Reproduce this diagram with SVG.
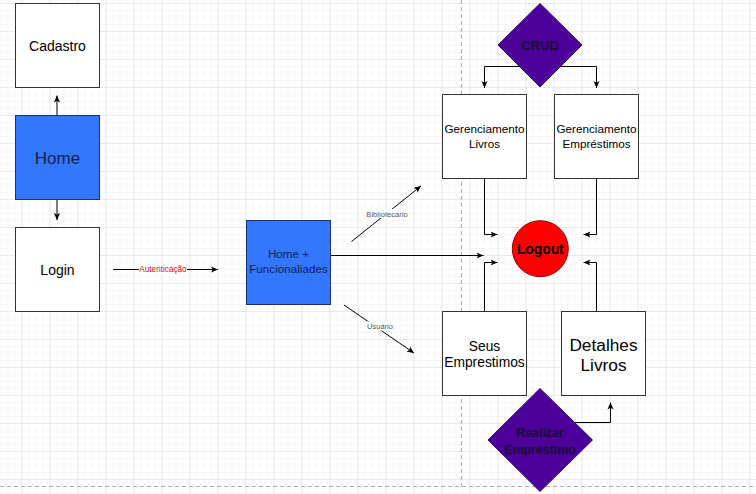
<svg xmlns="http://www.w3.org/2000/svg" width="756" height="494" viewBox="0 0 756 494">
<defs>
<pattern id="minor" patternUnits="userSpaceOnUse" x="0.5" y="3" width="7" height="7">
<path d="M0,0 H7 M0,0 V7" stroke="#f0f0f0" stroke-width="1" fill="none"/>
</pattern>
<pattern id="major" patternUnits="userSpaceOnUse" x="21.5" y="3" width="28" height="28">
<path d="M0,0 H28 M0,0 V28" stroke="#dcdcdc" stroke-width="1" fill="none"/>
</pattern>
<marker id="arr" viewBox="0 0 8 8" refX="8" refY="4" markerWidth="7" markerHeight="7" orient="auto" markerUnits="userSpaceOnUse">
<path d="M0,0.5 L8,4 L0,7.5 L2,4 Z" fill="#000"/>
</marker>
</defs>
<style>
.t{font-family:"Liberation Sans",Arial,sans-serif;text-anchor:middle;fill:#000}
.box{fill:#fff;stroke:#333;stroke-width:1}
.blue{fill:#3377ff;stroke:#1a3370;stroke-width:1}
.bt{fill:#14224d}
.dia{fill:#4c0099;stroke:#3a0080;stroke-width:1}
.dt{font-weight:bold;fill:#1a0d33}
.c{fill:none;stroke:#000;stroke-width:1;marker-end:url(#arr)}
.lbl{font-family:"Liberation Sans",Arial,sans-serif;text-anchor:middle}
</style>
<rect width="756" height="494" fill="#fff"/>
<rect width="756" height="494" fill="url(#minor)"/>
<rect width="756" height="494" fill="url(#major)"/>
<path d="M461.5,0 V486.5 M0,486.5 H756" stroke="#b0b0b0" stroke-width="1" stroke-dasharray="4 3" fill="none"/>

<g id="connectors">
<path class="c" d="M57,115 L57,95.5"/>
<path class="c" d="M57,199.5 L57,220"/>
<path class="c" d="M113,269.5 L218,269.5"/>
<path class="c" d="M330,255.5 L483.5,255.5"/>
<path class="c" d="M351.5,241.5 L421,186"/>
<path class="c" d="M344,305 L414,353"/>
<path class="c" d="M519.7,66.5 L484.5,66.5 L484.5,88"/>
<path class="c" d="M560.3,66.5 L596.5,66.5 L596.5,88"/>
<path class="c" d="M484.5,179 L484.5,234.5 L497.5,234.5"/>
<path class="c" d="M596.5,179 L596.5,234.5 L583.5,234.5"/>
<path class="c" d="M484.5,311.5 L484.5,262.5 L497.5,262.5"/>
<path class="c" d="M596.5,311.5 L596.5,262.5 L583.5,262.5"/>
<path class="c" d="M574,422.5 L610.5,422.5 L610.5,402.5"/>
<rect x="139" y="264" width="48" height="10" fill="#fff"/>
<text class="lbl" x="163" y="272.3" font-size="8.2" fill="#ff0000">Autenticação</text>
<rect x="366" y="209" width="42" height="9" fill="#fff"/>
<text class="lbl" x="387" y="216.7" font-size="7.6" fill="#555">Bibliotecário</text>
<rect x="366.5" y="321.5" width="27" height="9" fill="#fff"/>
<text class="lbl" x="380" y="328.7" font-size="7.5" fill="#555">Usuário</text>
</g>

<g id="cadastro">
<rect class="box" x="15.5" y="3.5" width="84" height="84"/>
<text class="t" x="57.5" y="50.8" font-size="14">Cadastro</text>
</g>
<g id="home">
<rect class="blue" x="15.5" y="115.5" width="84" height="84"/>
<text class="t bt" x="57.5" y="164.3" font-size="17">Home</text>
</g>
<g id="login">
<rect class="box" x="15.5" y="227.5" width="84" height="84"/>
<text class="t" x="57.5" y="275" font-size="14">Login</text>
</g>
<g id="home-funcionalidades">
<rect class="blue" x="246.5" y="220.5" width="84" height="84"/>
<text class="t bt" x="288.5" y="258.2" font-size="11.7">Home +</text>
<text class="t bt" x="288.5" y="273.3" font-size="11.7">Funcionaliades</text>
</g>
<g id="crud">
<polygon class="dia" points="540,3.5 582,45 540,87 498,45"/>
<text class="t dt" x="540" y="49.7" font-size="13">CRUD</text>
</g>
<g id="gerenciamento-livros">
<rect class="box" x="442.5" y="94.5" width="84" height="84"/>
<text class="t" x="484.5" y="132.5" font-size="11.7">Gerenciamento</text>
<text class="t" x="484.5" y="148.2" font-size="11.7">Livros</text>
</g>
<g id="gerenciamento-emprestimos">
<rect class="box" x="554.5" y="94.5" width="84" height="84"/>
<text class="t" x="596.5" y="132.5" font-size="11.7">Gerenciamento</text>
<text class="t" x="596.5" y="148.2" font-size="11.7">Empréstimos</text>
</g>
<g id="logout">
<circle cx="540.3" cy="248.7" r="28" fill="#ff0000" stroke="#990000" stroke-width="1"/>
<text class="t" x="540.3" y="254" font-size="13.8" font-weight="bold">Logout</text>
</g>
<g id="seus-emprestimos">
<rect class="box" x="442.5" y="311.5" width="84" height="84"/>
<text class="t" x="484.5" y="351" font-size="13.8">Seus</text>
<text class="t" x="484.5" y="367.3" font-size="13.8">Emprestimos</text>
</g>
<g id="detalhes-livros">
<rect class="box" x="561.5" y="311.5" width="84" height="84"/>
<text class="t" x="603.5" y="350.5" font-size="17.3">Detalhes</text>
<text class="t" x="603.5" y="370.6" font-size="17.3">Livros</text>
</g>
<g id="realizar-emprestimo">
<polygon class="dia" points="540,388.5 592.5,440 540,491.5 488,440"/>
<text class="t dt" x="540" y="437.2" font-size="12.4">Realizar</text>
<text class="t dt" x="540" y="453.5" font-size="12.4">Empréstimo</text>
</g>
</svg>
